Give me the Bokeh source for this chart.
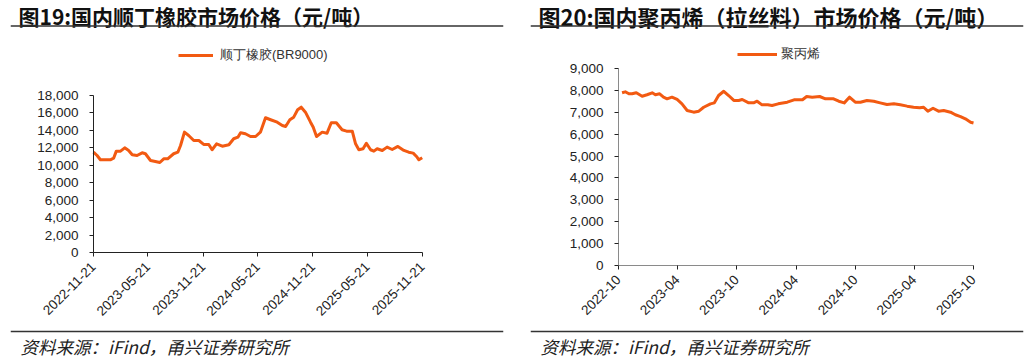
import math
import pandas as pd
from bokeh.plotting import figure
from bokeh.layouts import row
from bokeh.models import (Range1d, FixedTicker, DatetimeTickFormatter, NumeralTickFormatter,
                          Label, Span, Legend, LegendItem)
from bokeh.embed import file_html
from bokeh.resources import INLINE

# ---------------- data ----------------
br_dates = ["2022-11-21", "2022-12-03", "2022-12-14", "2023-01-16", "2023-01-27", "2023-02-05",
            "2023-02-19", "2023-03-05", "2023-03-18", "2023-03-30", "2023-04-15", "2023-05-02",
            "2023-05-13", "2023-05-30", "2023-06-15", "2023-06-30", "2023-07-13", "2023-07-26",
            "2023-08-15", "2023-08-29", "2023-09-07", "2023-09-20", "2023-10-04", "2023-10-21",
            "2023-11-07", "2023-11-23", "2023-12-10", "2023-12-21", "2024-01-05", "2024-01-24",
            "2024-02-15", "2024-03-02", "2024-03-16", "2024-03-25", "2024-04-10", "2024-04-27",
            "2024-05-14", "2024-05-30", "2024-06-16", "2024-07-03", "2024-07-25", "2024-08-11",
            "2024-08-22", "2024-09-05", "2024-09-18", "2024-10-01", "2024-10-13", "2024-10-27",
            "2024-11-13", "2024-11-22", "2024-12-03", "2024-12-22", "2025-01-07", "2025-01-21",
            "2025-02-07", "2025-02-26", "2025-03-13", "2025-04-01", "2025-04-12", "2025-04-23",
            "2025-05-07", "2025-05-18", "2025-06-01", "2025-06-12", "2025-06-23", "2025-07-10",
            "2025-07-26", "2025-08-12", "2025-08-31", "2025-09-20", "2025-10-06", "2025-10-21",
            "2025-11-01", "2025-11-09", "2025-11-20"]
br_values = [11500, 11120, 10630, 10630, 10810, 11620, 11620, 12000, 11700, 11200, 11120, 11430,
             11320, 10550, 10440, 10320, 10740, 10740, 11320, 11500, 12270, 13800, 13420, 12840,
             12840, 12390, 12390, 11780, 12460, 12190, 12350, 13040, 13220, 13730, 13610, 13300,
             13300, 13800, 15450, 15220, 14940, 14560, 14450, 15220, 15520, 16360, 16660, 16090,
             14940, 14370, 13300, 13800, 13680, 14870, 14870, 14070, 13910, 13910, 12460, 11780,
             11890, 12530, 11780, 11620, 11890, 11700, 12080, 11810, 12160, 11700, 11500, 11390,
             11010, 10630, 10860]

pp_dates = ["2022-10-12", "2022-10-22", "2022-11-02", "2022-11-12", "2022-11-25", "2022-12-13",
            "2022-12-28", "2023-01-13", "2023-01-23", "2023-02-05", "2023-02-17", "2023-02-28",
            "2023-03-15", "2023-03-31", "2023-04-15", "2023-05-01", "2023-05-21", "2023-06-06",
            "2023-06-21", "2023-07-12", "2023-07-24", "2023-08-06", "2023-08-22", "2023-09-06",
            "2023-09-22", "2023-10-07", "2023-10-18", "2023-11-07", "2023-11-22", "2023-12-03",
            "2023-12-18", "2024-01-05", "2024-01-18", "2024-02-06", "2024-03-05", "2024-03-26",
            "2024-04-21", "2024-05-04", "2024-05-21", "2024-06-13", "2024-07-01", "2024-07-26",
            "2024-08-11", "2024-08-28", "2024-09-13", "2024-10-01", "2024-10-17", "2024-11-06",
            "2024-11-27", "2024-12-17", "2025-01-07", "2025-01-28", "2025-02-17", "2025-03-10",
            "2025-03-30", "2025-04-18", "2025-04-30", "2025-05-13", "2025-05-29", "2025-06-15",
            "2025-07-01", "2025-07-22", "2025-08-06", "2025-08-22", "2025-09-06", "2025-09-22",
            "2025-10-01"]
pp_values = [7890, 7935, 7845, 7845, 7890, 7735, 7800, 7890, 7800, 7845, 7690, 7615,
             7690, 7585, 7385, 7080, 7005, 7050, 7230, 7385, 7430, 7765, 7960, 7765,
             7540, 7540, 7585, 7430, 7430, 7505, 7340, 7340, 7310, 7385, 7460, 7570,
             7570, 7720, 7690, 7720, 7615, 7615, 7505, 7430, 7690, 7460, 7460, 7540,
             7505, 7430, 7355, 7385, 7340, 7280, 7230, 7205, 7230, 7050, 7185, 7050,
             7080, 7005, 6885, 6805, 6700, 6545, 6510]

br_tick_labels = ["2022-11-21", "2023-05-21", "2023-11-21", "2024-05-21",
                  "2024-11-21", "2025-05-21", "2025-11-21"]
pp_tick_labels = ["2022-10", "2023-04", "2023-10", "2024-04", "2024-10", "2025-04", "2025-10"]
br_y_ticks = [0, 2000, 4000, 6000, 8000, 10000, 12000, 14000, 16000, 18000]
pp_y_ticks = [0, 1000, 2000, 3000, 4000, 5000, 6000, 7000, 8000, 9000]

br_name = "顺丁橡胶(BR9000)"
pp_name = "聚丙烯"
br_title = "图19:国内顺丁橡胶市场价格（元/吨）"
pp_title = "图20:国内聚丙烯（拉丝料）市场价格（元/吨）"
source_text = "资料来源：iFind，甬兴证券研究所"

# ---------------- styles ----------------
ORANGE = "#F25A12"
TICK_FONT = "Liberation Sans"
CJK_FONT = "Noto Sans CJK SC"
FIG_H = 359


def ms(s):
    return pd.Timestamp(s).value / 1e6


def make_panel(dates, values, tick_labels, y_ticks, fmt, name, title, title_size,
               fig_x0, fig_w, rule_l, rule_r, ax_l, ax_r, ax_t, ax_b,
               legend_x, legend_w, legend_sd, legend_cy, axis_color):
    # page-pixel -> data mapping (the frame covers the whole panel)
    t0, t1 = ms(tick_labels[0]), ms(tick_labels[-1])
    v0, v1 = y_ticks[0], y_ticks[-1]

    def X(px):
        return t0 + (px - ax_l) / (ax_r - ax_l) * (t1 - t0)

    def Y(py):
        return v0 + (ax_b - py) / (ax_b - ax_t) * (v1 - v0)

    p = figure(width=fig_w, height=FIG_H, x_axis_type="datetime",
               x_range=Range1d(X(rule_l), X(rule_r)),
               y_range=Range1d(Y(FIG_H), Y(0)),
               output_backend="svg", toolbar_location=None, min_border=0,
               min_border_left=rule_l - fig_x0, min_border_right=fig_x0 + fig_w - rule_r,
               min_border_top=0, min_border_bottom=0)
    p.outline_line_color = None
    p.xgrid.grid_line_color = None
    p.ygrid.grid_line_color = None
    p.background_fill_color = "white"
    p.border_fill_color = "white"

    x = pd.to_datetime(dates)
    r = p.line(x, values, line_color=ORANGE, line_width=3, line_join="round")

    # axes, placed at the data origin
    p.xaxis.fixed_location = v0
    p.yaxis.fixed_location = t0
    p.xaxis.bounds = (t0, t1)
    p.yaxis.bounds = (v0, v1)
    p.xaxis.ticker = FixedTicker(ticks=[ms(t) for t in tick_labels])
    p.xaxis.formatter = DatetimeTickFormatter(days=fmt, months=fmt, years=fmt, hours=fmt,
                                              minutes=fmt, seconds=fmt, milliseconds=fmt,
                                              minsec=fmt, hourmin=fmt)
    p.xaxis.major_label_orientation = math.pi / 4
    p.yaxis.ticker = FixedTicker(ticks=y_ticks)
    p.yaxis.formatter = NumeralTickFormatter(format="0,0")
    for ax in (p.xaxis[0], p.yaxis[0]):
        ax.axis_line_color = axis_color
        ax.axis_line_width = 1
        ax.major_tick_line_color = "#222222"
        ax.major_tick_out = 4
        ax.major_tick_in = 0
        ax.minor_tick_out = 0
        ax.minor_tick_in = 0
        ax.major_label_text_font = TICK_FONT
        ax.major_label_text_font_size = "13.5px"
        ax.major_label_text_color = "#222222"
    p.yaxis.major_label_standoff = 11
    p.xaxis.major_label_standoff = 8

    # legend (screen units from the frame's bottom-left corner)
    leg = Legend(items=[LegendItem(label=name, renderers=[r])],
                 location=(legend_x - rule_l, FIG_H - (legend_cy + 7)),
                 padding=0, margin=0, border_line_color=None, background_fill_alpha=0,
                 glyph_width=legend_w, glyph_height=14, label_height=14,
                 label_standoff=legend_sd, label_text_font=TICK_FONT,
                 label_text_font_size="13px", label_text_color="#333333")
    p.add_layout(leg)

    # title, rules, footer
    p.add_layout(Label(x=X(rule_l + 8), y=Y(15), text=title, text_font=CJK_FONT,
                       text_font_style="bold", text_font_size=title_size, text_color="#111111",
                       text_baseline="middle"))
    p.add_layout(Span(location=Y(25.5), dimension="width", line_color="#333333", line_width=1.5))
    p.add_layout(Span(location=Y(331), dimension="width", line_color="#333333", line_width=1.5))
    p.add_layout(Label(x=X(rule_l + 10), y=Y(346), text=source_text, text_font=CJK_FONT,
                       text_font_style="italic", text_font_size="17.5px", text_color="#222222",
                       text_baseline="middle"))
    return p


p1 = make_panel(br_dates, br_values, br_tick_labels, br_y_ticks, "%Y-%m-%d", br_name, br_title,
                "21px", 0, 516, 10, 503, 93, 422, 95, 252, 178, 35, 7, 57, "#222222")
p2 = make_panel(pp_dates, pp_values, pp_tick_labels, pp_y_ticks, "%Y-%m", pp_name, pp_title,
                "22px", 516, 516, 530, 1023, 618, 973, 68, 265, 737, 40, 4, 56, "#8a8a8a")

layout = row(p1, p2)
open("out.html", "w").write(file_html(layout, INLINE))
